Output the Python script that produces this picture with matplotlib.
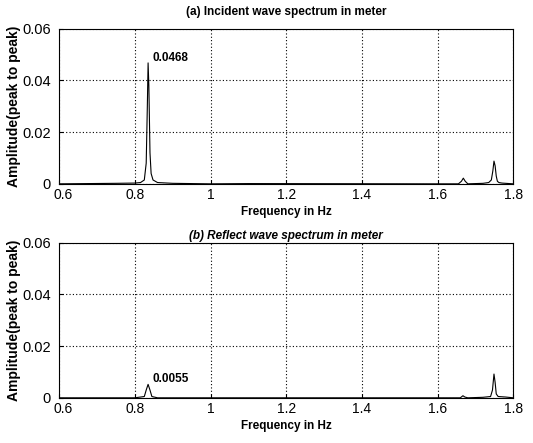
import matplotlib
matplotlib.use("Agg")
import matplotlib.pyplot as plt
import matplotlib.transforms as mtransforms

plt.rcParams['font.family'] = ['Liberation Sans', 'DejaVu Sans']

# === DATOS ===
freq_inc = [0.60, 0.75, 0.80, 0.815, 0.825, 0.830, 0.833, 0.835, 0.837, 0.840, 0.843,
            0.848, 0.86, 0.90, 1.00, 1.10, 1.60, 1.655, 1.663, 1.668, 1.673, 1.68,
            1.72, 1.735, 1.742, 1.746, 1.749, 1.752, 1.755, 1.758, 1.762, 1.77, 1.80]
amp_inc = [0.0, 0.0002, 0.0003, 0.0005, 0.0015, 0.008, 0.030, 0.0468, 0.038, 0.012, 0.004,
           0.0015, 0.0005, 0.0002, 0.0, 0.0001, 0.0, 0.0, 0.001, 0.0022, 0.0010, 0.0,
           0.0002, 0.0005, 0.0015, 0.0050, 0.0088, 0.0070, 0.0030, 0.0010, 0.0005, 0.0003, 0.0]

freq_ref = [0.60, 0.80, 0.825, 0.830, 0.835, 0.840, 0.845, 0.86, 1.00, 1.60, 1.66,
            1.667, 1.672, 1.68, 1.72, 1.74, 1.745, 1.749, 1.752, 1.755, 1.76, 1.78, 1.80]
amp_ref = [0.0, 0.0, 0.0005, 0.0030, 0.0052, 0.0030, 0.0005, 0.0, 0.0, 0.0, 0.0,
           0.0008, 0.0003, 0.0, 0.0002, 0.0005, 0.0030, 0.0092, 0.0060, 0.0015, 0.0005, 0.0003, 0.0]

peak_inc = (0.835, 0.0468)
peak_ref = (0.835, 0.0055)

x_ticks = [0.6, 0.8, 1.0, 1.2, 1.4, 1.6, 1.8]
x_labels = ["0.6", "0.8", "1", "1.2", "1.4", "1.6", "1.8"]
y_ticks = [0, 0.02, 0.04, 0.06]
y_labels = ["0", "0.02", "0.04", "0.06"]

fig = plt.figure(figsize=(5.33, 4.43), dpi=100)
ax1 = fig.add_axes([0.111, 0.585, 0.852, 0.350])
ax2 = fig.add_axes([0.111, 0.102, 0.852, 0.350])

paneles = [
    (ax1, freq_inc, amp_inc, peak_inc, "(a) Incident wave spectrum in meter", "normal", 10),
    (ax2, freq_ref, amp_ref, peak_ref, "(b) Reflect wave spectrum in meter", "italic", 3),
]

# pequeño desplazamiento a la derecha del "0.6" para que no pise al "0"
shift = mtransforms.ScaledTranslation(3 / 72, 0, fig.dpi_scale_trans)

for ax, f, a, pk, titulo, estilo, tpad in paneles:
    ax.plot(f, a, color="black", linewidth=0.8)
    ax.set_xlim(0.6, 1.8)
    ax.set_ylim(0, 0.06)
    ax.set_xticks(x_ticks)
    ax.set_xticklabels(x_labels)
    ax.set_yticks(y_ticks)
    ax.set_yticklabels(y_labels)
    ax.tick_params(axis="x", direction="in", labelsize=10, length=3, pad=3)
    ax.tick_params(axis="y", direction="in", labelsize=10.5, length=3, pad=6)
    lbl0 = ax.get_xticklabels()[0]
    lbl0.set_transform(lbl0.get_transform() + shift)
    ax.grid(True, color="black", linestyle=(0, (1, 2)), linewidth=0.8)
    for s in ax.spines.values():
        s.set_linewidth(0.8)
    ax.set_title(titulo, fontsize=8.5, fontweight="bold", style=estilo, pad=tpad)
    ax.set_xlabel("Frequency in Hz", fontsize=8.5, fontweight="bold", labelpad=3)
    ax.set_ylabel("Amplitude(peak to peak)", fontsize=10, fontweight="bold", labelpad=1)
    ax.annotate(f"{pk[1]:.4f}", xy=pk, xytext=(pk[0] + 0.012, pk[1] + 0.0019),
                fontsize=8.5, fontweight="bold", va="center")

fig.savefig("out.png", dpi=100)
